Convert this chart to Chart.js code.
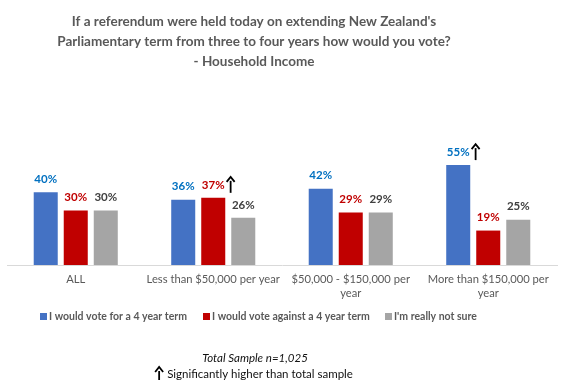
<!DOCTYPE html>
<html><head><meta charset="utf-8">
<script src="https://cdn.jsdelivr.net/npm/chart.js@4.4.1/dist/chart.umd.min.js"></script>
<style>html,body{margin:0;padding:0;background:#fff}#wrap{width:579px;height:390px}</style>
</head><body><div id="wrap"><canvas id="c" width="579" height="390"></canvas></div>
<script>
const categories = ["ALL", "Less than $50,000 per year", ["$50,000 - $150,000 per", "year"], ["More than $150,000 per", "year"]];
const seriesNames = ["I would vote for a 4 year term", "I would vote against a 4 year term", "I'm really not sure"];
const voteFor = [40, 36, 42, 55];
const voteAgainst = [30, 37, 29, 19];
const notSure = [30, 26, 29, 25];
// significance flags: [seriesIndex, categoryIndex]
const sigHigher = [[1, 1], [0, 3]];
const titleLines = ["If a referendum were held today on extending New Zealand's", "Parliamentary term from three to four years how would you vote?", "- Household Income"];
const footLines = ["Total Sample n=1,025", "Significantly higher than total sample"];

const barColors = ["#4472C4", "#C00000", "#A5A5A5"];
const labelColors = ["#0070C0", "#C00000", "#404040"];
const FONT = "Lato, 'Liberation Sans', sans-serif";

function drawArrow(ctx, x, yBottom, yTop) {
  ctx.save();
  ctx.strokeStyle = "#000"; ctx.fillStyle = "#000"; ctx.lineWidth = 1.8;
  ctx.beginPath(); ctx.moveTo(x, yBottom); ctx.lineTo(x, yTop + 4); ctx.stroke();
  ctx.beginPath(); ctx.moveTo(x - 4, yTop + 5); ctx.lineTo(x, yTop); ctx.lineTo(x + 4, yTop + 5); ctx.stroke();
  ctx.restore();
}

const overlay = {
  id: 'overlay',
  afterDatasetsDraw(chart) {
    const ctx = chart.ctx;
    ctx.save();
    ctx.textAlign = 'center'; ctx.textBaseline = 'middle';
    ctx.font = "bold 11.5px " + FONT;
    chart.data.datasets.forEach((ds, di) => {
      chart.getDatasetMeta(di).data.forEach((bar, i) => {
        ctx.fillStyle = labelColors[di];
        const txt = ds.data[i] + '%';
        const ly = bar.y - 13;
        ctx.fillText(txt, bar.x, ly);
        if (sigHigher.some(s => s[0] === di && s[1] === i)) {
          const w = ctx.measureText(txt).width;
          drawArrow(ctx, bar.x + w / 2 + 6, ly + 8, ly - 8);
        }
      });
    });
    // title
    ctx.fillStyle = "#595959";
    ctx.font = "bold 13.5px " + FONT;
    const tx = 254;
    titleLines.forEach((t, k) => ctx.fillText(t, tx, 22 + k * 20));
    // legend
    ctx.font = "bold 10.5px " + FONT;
    ctx.textAlign = 'left';
    const legX = [40, 203, 385];
    seriesNames.forEach((n, k) => {
      ctx.fillStyle = barColors[k];
      ctx.fillRect(legX[k], 313, 7, 7);
      ctx.fillStyle = "#595959";
      ctx.fillText(n, legX[k] + 9, 317);
    });
    // footer
    ctx.fillStyle = "#111";
    ctx.textAlign = 'center';
    ctx.font = "italic 11.5px " + FONT;
    ctx.fillText(footLines[0], 255, 358);
    ctx.font = "11.5px " + FONT;
    const w2 = ctx.measureText(footLines[1]).width;
    ctx.fillText(footLines[1], 260, 374);
    drawArrow(ctx, 260 - w2 / 2 - 8, 380, 367);
    ctx.restore();
  }
};

new Chart(document.getElementById('c'), {
  type: 'bar',
  data: {
    labels: categories,
    datasets: [
      { label: seriesNames[0], data: voteFor, backgroundColor: barColors[0] },
      { label: seriesNames[1], data: voteAgainst, backgroundColor: barColors[1] },
      { label: seriesNames[2], data: notSure, backgroundColor: barColors[2] }
    ]
  },
  options: {
    responsive: false, animation: false,
    layout: { padding: { left: 7, right: 22, top: 156, bottom: 82 } },
    datasets: { bar: { categoryPercentage: 0.655, barPercentage: 0.8 } },
    plugins: { legend: { display: false }, title: { display: false }, tooltip: { enabled: false } },
    scales: {
      y: { display: false, min: 0, max: 60 },
      x: {
        grid: { display: false, drawTicks: false },
        border: { display: true, color: "#D9D9D9", width: 1 },
        ticks: { color: "#595959", font: { family: FONT, size: 11.2 }, padding: 8, maxRotation: 0, autoSkip: false }
      }
    }
  },
  plugins: [overlay]
});
</script></body></html>
